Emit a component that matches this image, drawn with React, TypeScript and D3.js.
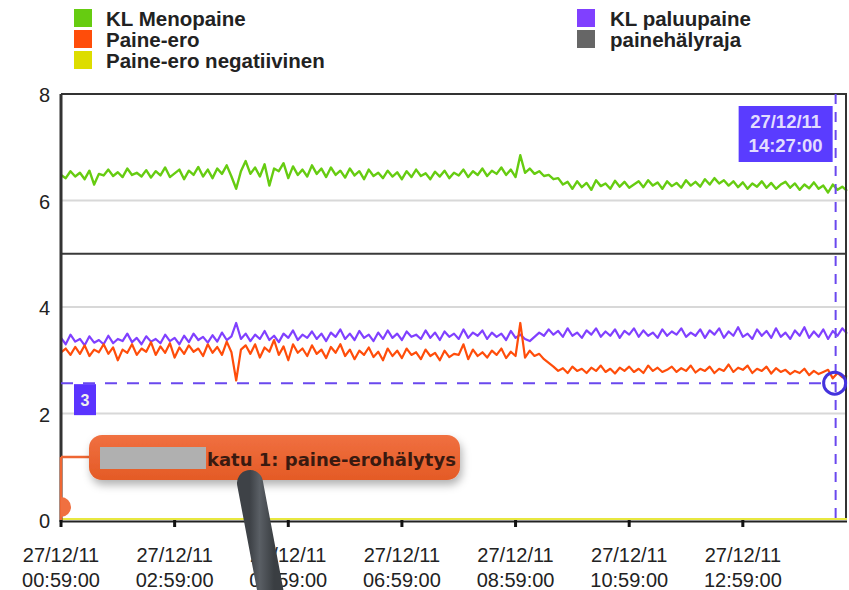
import React from "react";
import * as d3 from "d3";

// series sampled every 5 minutes from 27/12/11 00:59
const startTime = new Date(2011, 11, 27, 0, 59);
const stepMinutes = 5;

const menopaine = [
  6.48, 6.42, 6.55, 6.45, 6.52, 6.4, 6.56, 6.3, 6.5, 6.47,
  6.58, 6.46, 6.53, 6.44, 6.6, 6.48, 6.52, 6.45, 6.57, 6.43,
  6.55, 6.47, 6.62, 6.44, 6.51, 6.58, 6.4, 6.56, 6.48, 6.63,
  6.45, 6.58, 6.42, 6.6, 6.5, 6.66, 6.45, 6.22, 6.55, 6.74,
  6.5, 6.62, 6.45, 6.68, 6.28, 6.6, 6.55, 6.7, 6.42, 6.64,
  6.48, 6.58, 6.45, 6.66, 6.5, 6.6, 6.44, 6.62, 6.48, 6.56,
  6.43, 6.6, 6.47, 6.55, 6.4, 6.58, 6.46, 6.52, 6.42, 6.56,
  6.45, 6.53, 6.4, 6.55, 6.44, 6.58, 6.46, 6.51, 6.4, 6.54,
  6.45, 6.56, 6.42, 6.52, 6.47, 6.58, 6.44, 6.55, 6.48, 6.6,
  6.46, 6.56, 6.5, 6.62, 6.48, 6.58, 6.44, 6.85, 6.52, 6.6,
  6.5, 6.55, 6.46, 6.48, 6.4, 6.42, 6.3, 6.35, 6.22, 6.36,
  6.25, 6.33, 6.2, 6.38, 6.27, 6.32, 6.22, 6.37, 6.26, 6.35,
  6.24, 6.3, 6.36, 6.25, 6.38, 6.28, 6.34, 6.22, 6.36, 6.27,
  6.33, 6.24, 6.38, 6.28, 6.35, 6.26, 6.4, 6.3, 6.42, 6.32,
  6.38, 6.28, 6.36, 6.25, 6.34, 6.22, 6.32, 6.26, 6.36, 6.24,
  6.33, 6.22, 6.3, 6.35, 6.24, 6.32, 6.2, 6.3, 6.23, 6.34,
  6.22, 6.28, 6.15, 6.3, 6.2, 6.26, 6.18,
];

const paluupaine = [
  3.42, 3.3, 3.48, 3.35, 3.4, 3.28, 3.45, 3.33, 3.38, 3.3,
  3.46, 3.32, 3.4, 3.36, 3.5, 3.34, 3.42, 3.3, 3.45, 3.35,
  3.4, 3.32, 3.48, 3.36, 3.42, 3.3, 3.46, 3.34, 3.5, 3.38,
  3.44, 3.33, 3.47, 3.35, 3.52, 3.38, 3.45, 3.7, 3.4, 3.5,
  3.36, 3.48, 3.4, 3.55, 3.38, 3.46, 3.34, 3.5, 3.42, 3.56,
  3.38, 3.48, 3.42, 3.54, 3.4, 3.5, 3.36, 3.52, 3.44, 3.58,
  3.4, 3.5, 3.38, 3.55, 3.42, 3.48, 3.36, 3.52, 3.4, 3.56,
  3.42, 3.5, 3.38, 3.54, 3.44, 3.48, 3.4, 3.56, 3.42, 3.52,
  3.38, 3.54, 3.44, 3.5, 3.4, 3.58, 3.42, 3.52, 3.46, 3.56,
  3.4, 3.52, 3.44, 3.5, 3.38, 3.55, 3.42, 3.48, 3.4, 3.36,
  3.44, 3.52, 3.46, 3.58, 3.48, 3.55, 3.44, 3.6, 3.46, 3.52,
  3.42, 3.56, 3.48, 3.6, 3.44, 3.54, 3.46, 3.58, 3.42, 3.55,
  3.48, 3.6, 3.44, 3.56, 3.46, 3.52, 3.42, 3.58, 3.46, 3.54,
  3.48, 3.6, 3.44, 3.52, 3.46, 3.58, 3.42, 3.56, 3.48, 3.6,
  3.42, 3.54, 3.46, 3.62, 3.44, 3.5, 3.4, 3.58, 3.46, 3.55,
  3.42, 3.6, 3.44, 3.52, 3.4, 3.56, 3.46, 3.62, 3.42, 3.54,
  3.44, 3.58, 3.4, 3.55, 3.46, 3.6, 3.5,
];

const paineEro = [
  3.15, 3.22, 3.1, 3.25, 3.12, 3.28, 3.08, 3.2, 3.15, 3.3,
  3.12, 3.24, 3.0, 3.2, 3.14, 3.3, 3.1, 3.22, 3.16, 3.34,
  3.1, 3.26, 3.14, 3.32, 3.05, 3.24, 3.12, 3.28, 3.16, 3.22,
  3.08, 3.3, 3.14, 3.25, 3.1, 3.35, 3.15, 2.62, 3.2, 3.28,
  3.12, 3.3, 3.05, 3.24, 3.16, 3.38, 3.1, 3.26, 3.0, 3.3,
  3.14, 3.22, 3.08, 3.28, 3.12, 3.2, 3.04, 3.25, 3.14, 3.3,
  3.08, 3.2, 3.02, 3.18, 3.1, 3.24, 3.06, 3.16, 3.0, 3.22,
  3.08, 3.18, 3.04, 3.22, 3.1, 3.15, 3.02, 3.2, 3.08, 3.14,
  3.0, 3.18, 3.06, 3.12, 3.1, 3.3, 3.02, 3.2, 3.08, 3.15,
  3.05, 3.18, 3.1, 3.22, 3.04, 3.16, 3.08, 3.7, 3.05, 3.18,
  3.08, 3.12, 3.02, 2.95, 2.88, 2.8, 2.85, 2.76, 2.88, 2.8,
  2.84, 2.76, 2.86, 2.8, 2.9, 2.78, 2.84, 2.75, 2.86, 2.8,
  2.88, 2.78, 2.84, 2.76, 2.9, 2.8, 2.86, 2.78, 2.82, 2.88,
  2.78, 2.85, 2.8, 2.9, 2.77, 2.84, 2.8, 2.88, 2.76, 2.84,
  2.8, 2.92, 2.78, 2.86, 2.82, 2.9, 2.76, 2.84, 2.8, 2.88,
  2.75, 2.85, 2.78, 2.82, 2.74, 2.8, 2.76, 2.84, 2.72, 2.8,
  2.74, 2.78, 2.82, 2.66, 2.76, 2.68, 2.72,
];

const paineEroNegatiivinen = [0, 0];
const painehalyraja = [5, 5];

const legendLeft = [
  { name: "KL Menopaine", color: "#66cc11" },
  { name: "Paine-ero", color: "#ff4d0a" },
  { name: "Paine-ero negatiivinen", color: "#dddd00" },
];
const legendRight = [
  { name: "KL paluupaine", color: "#8040ff" },
  { name: "painehälyraja", color: "#666666" },
];

const yTicks = [0, 2, 4, 6, 8];
const cursorMinutes = 818;
const cursorValue = 2.57;
const cursorValueLabel = "3";
const cursorTimeLines = ["27/12/11", "14:27:00"];
const alarmText = "katu 1: paine-erohälytys";

const W = 849;
const H = 590;
const margin = { top: 94, right: 2, bottom: 70, left: 61 };

export default function App() {
  const times = menopaine.map((_, i) => d3.timeMinute.offset(startTime, i * stepMinutes));
  const endTime = times[times.length - 1];

  const x = d3.scaleTime().domain([startTime, endTime]).range([margin.left, W - margin.right]);
  const y = d3.scaleLinear().domain([0, 8]).range([H - margin.bottom, margin.top]);

  const line = d3
    .line<number>()
    .x((_, i) => x(times[i]))
    .y((d) => y(d));
  const flat = d3
    .line<number>()
    .x((_, i) => (i === 0 ? x(startTime) : x(endTime)))
    .y((d) => y(d));

  const xTicks = d3.range(7).map((k) => d3.timeMinute.offset(startTime, 120 * k));
  const fmtDate = d3.timeFormat("%d/%m/%y");
  const fmtTime = d3.timeFormat("%H:%M:%S");

  const x0 = x.range()[0];
  const x1 = x.range()[1];
  const yBottom = y(0);
  const yTop = y(8);

  const cx = x(d3.timeMinute.offset(startTime, cursorMinutes));
  const cy = y(cursorValue);

  const font = "'Liberation Sans', Arial, sans-serif";

  return (
    <svg
      width={W}
      height={H}
      style={{ position: "absolute", left: 0, top: 0, background: "#fff" }}
      fontFamily={font}
    >
      <defs>
        <filter id="shadow" x="-10%" y="-30%" width="130%" height="180%">
          <feDropShadow dx="2" dy="5" stdDeviation="4" floodColor="#000" floodOpacity="0.3" />
        </filter>
        <linearGradient id="bubble" x1="0" y1="0" x2="0" y2="1">
          <stop offset="0" stopColor="#f07040" />
          <stop offset="1" stopColor="#e45a26" />
        </linearGradient>
        <linearGradient id="pen" x1="0" y1="0" x2="1" y2="0">
          <stop offset="0" stopColor="#3e4247" />
          <stop offset="0.4" stopColor="#5a5f65" />
          <stop offset="1" stopColor="#3a3e42" />
        </linearGradient>
      </defs>

      {/* legend */}
      {legendLeft.map((d, i) => (
        <g key={d.name} transform={`translate(74, ${9 + i * 21})`}>
          <rect width={18} height={18} fill={d.color} />
          <text x={32} y={17} fontSize={20.5} fontWeight="bold" fill="#222">
            {d.name}
          </text>
        </g>
      ))}
      {legendRight.map((d, i) => (
        <g key={d.name} transform={`translate(577, ${9 + i * 21})`}>
          <rect width={18} height={18} fill={d.color} />
          <text x={33} y={17} fontSize={20.5} fontWeight="bold" fill="#222">
            {d.name}
          </text>
        </g>
      ))}

      {/* grid */}
      {yTicks
        .filter((t) => t > 0 && t < 8)
        .map((t) => (
          <line key={t} x1={x0} x2={x1} y1={y(t)} y2={y(t)} stroke="#d8d8d8" strokeWidth={2} />
        ))}

      {/* alarm limit */}
      <path d={flat(painehalyraja) ?? ""} stroke="#3a3a3a" strokeWidth={2} fill="none" />

      {/* series */}
      <path d={line(menopaine) ?? ""} stroke="#66cc11" strokeWidth={2.4} fill="none" strokeLinejoin="round" />
      <path d={line(paluupaine) ?? ""} stroke="#8040ff" strokeWidth={2.2} fill="none" strokeLinejoin="round" />
      <path d={line(paineEro) ?? ""} stroke="#ff4d0a" strokeWidth={2.2} fill="none" strokeLinejoin="round" />

      {/* frame */}
      <line x1={x0} x2={x1} y1={yTop} y2={yTop} stroke="#333" strokeWidth={2} />
      <line x1={x1 - 1} x2={x1 - 1} y1={yTop} y2={yBottom} stroke="#333" strokeWidth={2} />
      <line x1={x0} x2={x1} y1={yBottom + 1.5} y2={yBottom + 1.5} stroke="#222" strokeWidth={2} />
      <path d={flat(paineEroNegatiivinen) ?? ""} stroke="#e8e840" strokeWidth={2} fill="none" transform="translate(0,-1)" />
      <line x1={x0} x2={x0} y1={yTop} y2={yBottom + 2} stroke="#333" strokeWidth={3} />

      {/* y axis labels */}
      {yTicks.map((t) => (
        <text key={t} x={50} y={y(t) + 8} textAnchor="end" fontSize={20} fill="#222">
          {t}
        </text>
      ))}

      {/* x axis ticks */}
      {xTicks.map((t, i) => (
        <g key={i} transform={`translate(${x(t)}, 0)`}>
          <line y1={yBottom} y2={yBottom + 7} stroke="#111" strokeWidth={3} />
          <text y={562} textAnchor="middle" fontSize={20} fill="#222">
            {fmtDate(t)}
          </text>
          <text y={587} textAnchor="middle" fontSize={20} fill="#222">
            {fmtTime(t)}
          </text>
        </g>
      ))}

      {/* crosshair */}
      <line x1={x0} x2={cx} y1={cy} y2={cy} stroke="#6a48ee" strokeWidth={2} strokeDasharray="12 10" />
      <line x1={cx} x2={cx} y1={yTop} y2={yBottom} stroke="#6a48ee" strokeWidth={2} strokeDasharray="10 8" />
      <circle cx={cx - 1} cy={cy} r={11} fill="none" stroke="#4433dd" strokeWidth={3} />
      <rect x={74} y={cy + 1} width={22} height={31} fill="#5a33ff" />
      <text x={85} y={cy + 23} textAnchor="middle" fontSize={16} fontWeight="bold" fill="#eee">
        {cursorValueLabel}
      </text>
      <rect x={cx - 97} y={106} width={94} height={56} fill="#5a3cff" />
      {cursorTimeLines.map((s, i) => (
        <text key={s} x={cx - 50} y={128 + i * 24} textAnchor="middle" fontSize={18.5} fontWeight="bold" fill="#e2dcff">
          {s}
        </text>
      ))}

      {/* alarm annotation */}
      <line x1={x0} x2={89} y1={457} y2={457} stroke="#ee6633" strokeWidth={2.5} />
      <line x1={x0} x2={x0} y1={457} y2={yBottom} stroke="#ee6633" strokeWidth={2.5} />
      <path d={`M ${x0} 497 A 10 10 0 0 1 ${x0} 517 Z`} fill="#f07040" />
      <g filter="url(#shadow)">
        <rect x={89} y={435} width={371} height={45} rx={13} fill="url(#bubble)" />
      </g>
      <rect x={100} y={447} width={106} height={22} fill="#b0b0b0" />
      <text x={207} y={466} fontSize={18} fontWeight="bold" fill="#3a1a10" fontFamily="'DejaVu Sans', sans-serif">
        {alarmText}
      </text>

      {/* stylus */}
      <line x1={250} y1={483} x2={274} y2={610} stroke="url(#pen)" strokeWidth={26} strokeLinecap="round" />
    </svg>
  );
}
